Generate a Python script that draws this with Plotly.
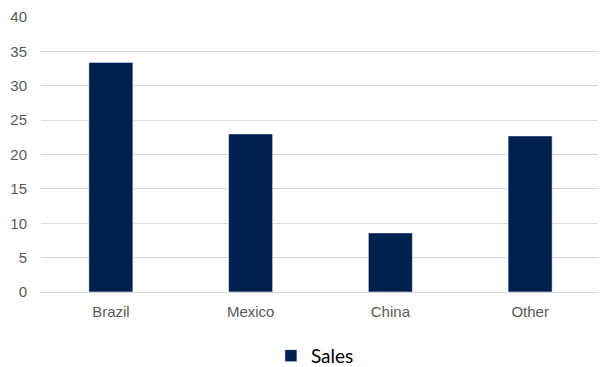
import plotly.graph_objects as go

categories = ["Brazil", "Mexico", "China", "Other"]
sales = [33.4, 23.0, 8.6, 22.7]
y_ticks = [0, 5, 10, 15, 20, 25, 30, 35, 40]

fig = go.Figure()
fig.add_trace(go.Bar(
    x=categories, y=sales, name="Sales",
    marker=dict(color="#002050", line=dict(color="#ffffff", width=0.5)),
))
fig.update_layout(
    width=598, height=359,
    margin=dict(l=33, r=6, t=9, b=75, autoexpand=False),
    plot_bgcolor="white", paper_bgcolor="white",
    bargap=0.685,
    showlegend=True,
    legend=dict(orientation="h", x=0.49, xanchor="center", y=-0.232, yanchor="middle",
                font=dict(family="Lato, Open Sans, sans-serif", size=19, color="#000000"),
                itemwidth=30, tracegroupgap=0, borderwidth=0),
    font=dict(family="Liberation Sans, Arial, sans-serif", size=15, color="#595959"),
)
fig.update_yaxes(range=[0, 40], tickvals=y_ticks, showgrid=True, gridcolor="#d9d9d9", gridwidth=1,
                 zeroline=False, ticks="", ticklabelstandoff=13, showline=False, automargin=False)
fig.update_xaxes(showline=True, linecolor="#d9d9d9", linewidth=1, ticks="", ticklabelstandoff=6,
                 automargin=False)
fig.write_html("out.html")
